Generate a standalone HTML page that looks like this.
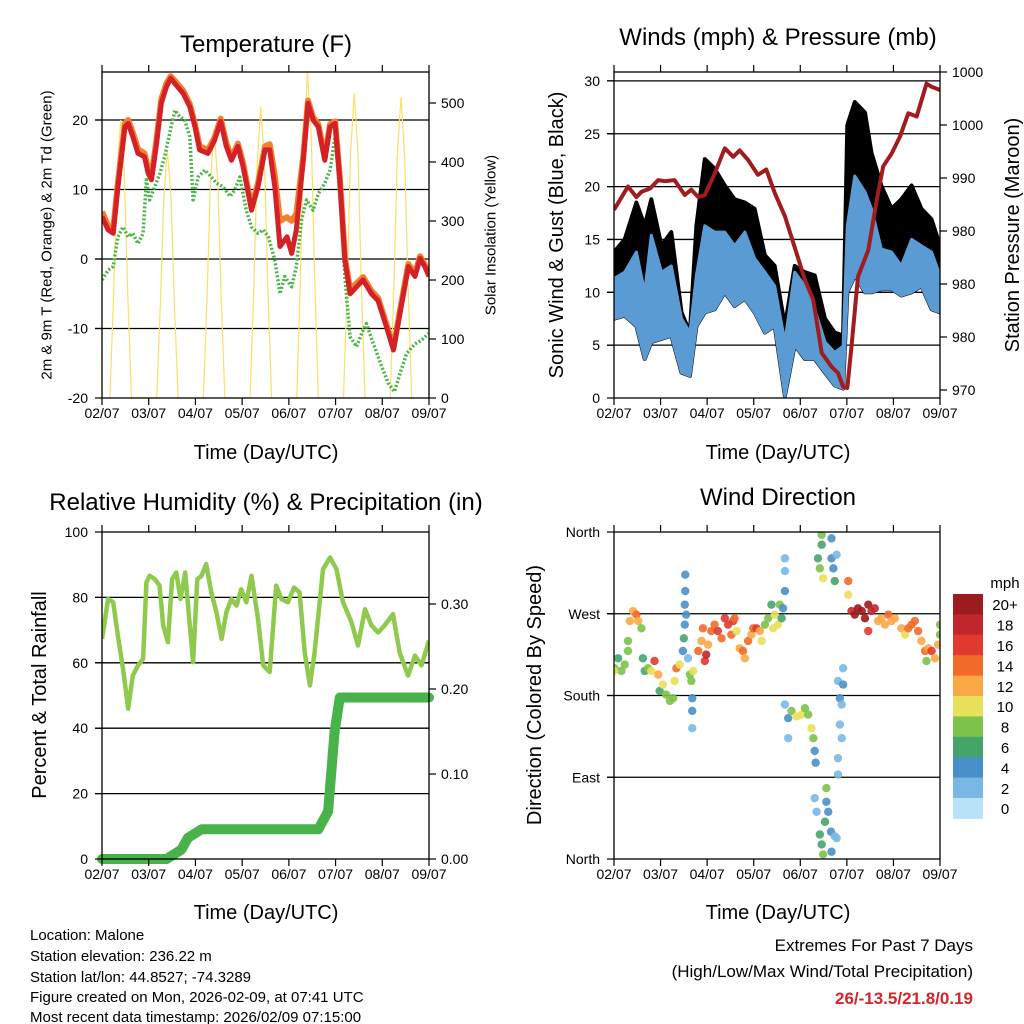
<!DOCTYPE html>
<html><head><meta charset="utf-8"><title>Weather Station Malone</title>
<style>
html,body{margin:0;padding:0;background:#fff;}
svg{display:block;font-family:"Liberation Sans",Arial,sans-serif;}
</style></head>
<body>
<svg id="fig" width="1024" height="1024" viewBox="0 0 1024 1024" xmlns="http://www.w3.org/2000/svg">
<rect x="0" y="0" width="1024" height="1024" fill="#fff"/>
<text x="266" y="52" font-size="24" text-anchor="middle">Temperature (F)</text>
<text x="778" y="45" font-size="24" text-anchor="middle">Winds (mph) &amp; Pressure (mb)</text>
<text x="266" y="510" font-size="24" text-anchor="middle">Relative Humidity (%) &amp; Precipitation (in)</text>
<text x="778" y="505" font-size="24" text-anchor="middle">Wind Direction</text>

<text transform="translate(47,235) rotate(-90)" font-size="15" text-anchor="middle" dominant-baseline="central">2m &amp; 9m T (Red, Orange) &amp; 2m Td (Green)</text>
<text transform="translate(491,235) rotate(-90)" font-size="15" text-anchor="middle" dominant-baseline="central">Solar Insolation (Yellow)</text>
<text transform="translate(557,235) rotate(-90)" font-size="20" text-anchor="middle" dominant-baseline="central">Sonic Wind &amp; Gust (Blue, Black)</text>
<text transform="translate(1013,235) rotate(-90)" font-size="20" text-anchor="middle" dominant-baseline="central">Station Pressure (Maroon)</text>
<text transform="translate(40,695) rotate(-90)" font-size="20" text-anchor="middle" dominant-baseline="central">Percent &amp; Total Rainfall</text>
<text transform="translate(535,695) rotate(-90)" font-size="20" text-anchor="middle" dominant-baseline="central">Direction (Colored By Speed)</text>

<text x="266" y="459" font-size="20" text-anchor="middle">Time (Day/UTC)</text>
<text x="778" y="459" font-size="20" text-anchor="middle">Time (Day/UTC)</text>
<text x="266" y="919" font-size="20" text-anchor="middle">Time (Day/UTC)</text>
<text x="778" y="919" font-size="20" text-anchor="middle">Time (Day/UTC)</text>

<g font-size="15">
<text x="30" y="940">Location: Malone</text>
<text x="30" y="961">Station elevation: 236.22 m</text>
<text x="30" y="982">Station lat/lon: 44.8527; -74.3289</text>
<text x="30" y="1002">Figure created on Mon, 2026-02-09, at 07:41 UTC</text>
<text x="30" y="1022">Most recent data timestamp: 2026/02/09 07:15:00</text>
</g>
<g font-size="17" text-anchor="end">
<text x="973" y="951">Extremes For Past 7 Days</text>
<text x="973" y="977">(High/Low/Max Wind/Total Precipitation)</text>
<text x="973" y="1004" fill="#d0262d" font-weight="bold">26/-13.5/21.8/0.19</text>
</g>
<g id="dyn"></g>
</svg>
<script>
// ---------- Temperature panel data ----------
const redTimes = [0,0.13,0.24,0.34,0.49,0.56,0.66,0.77,0.91,0.99,1.06,1.16,1.27,1.38,1.47,1.59,1.74,1.88,1.99,2.09,2.27,2.41,2.54,2.66,2.77,2.91,3.02,3.2,3.34,3.49,3.59,3.7,3.81,3.96,4.06,4.16,4.31,4.41,4.52,4.63,4.77,4.88,4.99,5.09,5.2,5.31,5.45,5.59,5.77,5.91,6.09,6.24,6.38,6.56,6.7,6.81,6.91,7.0];
const temp2m = [6.1,4.2,3.7,10.4,19,19.5,17.6,15.2,14.7,12.3,11.4,16.2,22.4,24.8,26,25,23.8,21.9,19,15.7,15.2,17.1,19.8,16.2,14.2,16.2,13.3,7,10.4,15.7,15.7,10.4,1.8,3.2,0.8,4.2,14.2,22.4,20,19,14.2,19,19.5,11.4,-0.2,-5,-4,-3,-5,-6,-9.8,-13.1,-7.8,-1.1,-2.5,0.1,-1.1,-2.5];
const temp9m = [6.8,4.8,4.2,11,19.5,20,18.2,15.8,15.2,13,12,16.8,23,25.3,26.3,25.4,24.2,22.3,19.4,16.2,15.7,17.5,20.2,16.7,14.6,16.6,13.8,7.5,10.9,16.2,16.5,12,5.5,6,5.5,6.5,14.8,22.8,20.4,19.4,14.6,19.4,19.8,11.8,0.3,-4.4,-3.5,-2.6,-4.6,-5.6,-9.4,-12.8,-7.4,-0.7,-2.1,0.4,-0.8,-2.2];
const tdTimes = [0,0.13,0.24,0.34,0.45,0.56,0.66,0.77,0.88,0.95,1.02,1.13,1.24,1.34,1.45,1.56,1.66,1.77,1.88,1.95,2.06,2.2,2.34,2.45,2.59,2.74,2.84,2.95,3.09,3.2,3.34,3.45,3.56,3.7,3.81,3.91,4.06,4.16,4.27,4.38,4.52,4.63,4.77,4.88,4.99,5.09,5.2,5.31,5.45,5.56,5.66,5.81,5.99,6.13,6.26,6.38,6.52,6.7,6.84,6.99];
const dewpoint = [-3,-1.6,-1.1,3.2,4.6,3.2,3.7,2.2,3.7,11.4,8.5,10.4,12.3,14.7,18.1,21.4,20.5,20,17.6,8.5,11.8,12.8,11.8,10.9,10.4,9,9.9,11.8,7,4.6,3.7,4.2,3.2,-0.1,-5,-2.5,-4,-1.1,5.6,8.5,7,9.4,10.9,12.8,17.6,9.4,-2.5,-11.2,-12.6,-10.7,-9.3,-12.2,-15.5,-17.9,-19.1,-16.5,-13.6,-12.2,-11.7,-10.7];
const solarTimes = [0.17,0.25,0.32,0.4,0.48,0.55,0.63, 1.17,1.25,1.32,1.4,1.48,1.55,1.63, 2.17,2.25,2.32,2.4,2.48,2.55,2.63, 3.17,3.25,3.32,3.4,3.48,3.55,3.63, 4.17,4.25,4.32,4.4,4.48,4.55,4.63, 5.17,5.25,5.32,5.4,5.48,5.55,5.63, 6.17,6.25,6.32,6.4,6.48,6.55,6.63];
const solar = [0,179,377,471,377,179,0, 0,160,336,420,336,160,0, 0,173,363,454,363,173,0, 0,187,394,493,394,187,0, 0,210,442,552,442,210,0, 0,196,414,517,414,196,0, 0,194,408,510,408,194,0];
const tempTicks = [20,10,0,-10,-20];
const solarTicks = [0,100,200,300,400,500];
const dayLabels = ["02/07","03/07","04/07","05/07","06/07","07/07","08/07","09/07"];

// ---------- Winds panel data ----------
const windTimes = [0,0.23,0.48,0.66,0.8,1.02,1.23,1.45,1.63,1.77,1.95,2.16,2.38,2.59,2.81,3.02,3.24,3.45,3.67,3.88,4.1,4.31,4.53,4.74,4.92,5.01,5.17,5.39,5.53,5.74,5.96,6.17,6.39,6.6,6.82,7.0];
const windHigh = [11.3,11.9,13.8,10,15.4,11.9,12.5,7.5,6.2,11.6,16.3,15.7,15.7,14.4,15.7,13.2,11.9,10.6,5.3,11.9,10.6,8.4,5.3,4.3,4.9,16.3,21,19.5,17.9,14.1,13.8,12.5,15,14.4,13.8,11.6];
const windLow = [7.5,7.8,6.8,3.7,5.3,5.6,5.9,2.4,2.1,6.8,8.1,8.4,10,8.7,9.4,8.1,6.2,6.8,0.2,5,3.7,3.7,2.4,1.2,0.9,10,11.6,10,10,10.3,10.3,9.7,10,10.6,8.4,8.1];
const gustHigh = [13.8,15,18.5,16.3,18.8,14.4,15.7,8.1,6.2,16.3,22.6,21.7,20.1,18.8,18.5,17.9,13.5,12.5,6.8,12.5,11.9,11.6,7.5,6.2,5.9,25.8,28,27,23.2,20.1,17.9,18.8,20.1,17.9,16.9,14.4];
const presTimes = [0,0.3,0.48,0.59,0.77,0.95,1.09,1.3,1.52,1.66,1.81,1.95,2.16,2.38,2.56,2.7,2.88,3.09,3.27,3.45,3.67,3.92,4.1,4.28,4.46,4.67,4.81,4.92,5.01,5.1,5.24,5.46,5.64,5.78,5.96,6.14,6.32,6.5,6.71,6.82,7.0];
const pressure = [987.0,989.2,988.2,988.7,989.0,989.8,989.7,989.8,988.4,988.9,988.2,988.4,990.4,992.8,992.0,992.6,991.7,990.3,990.8,988.6,986.4,982.9,980.4,978.5,973.5,972.2,971.6,970.3,970.2,974.1,980.7,983.2,987.9,991.1,992.3,993.9,996.1,995.8,998.9,998.6,998.3];
const windTicks = [0,5,10,15,20,25,30];
const presTicks = [970,975,980,985,990,995,1000];
const presTickLabels = ["970","980","980","980","990","1000","1000"];

// ---------- Humidity panel data ----------
const rhTimes = [0,0.13,0.24,0.34,0.45,0.56,0.66,0.77,0.88,0.95,1.02,1.13,1.23,1.31,1.41,1.5,1.59,1.68,1.78,1.88,1.95,2.04,2.13,2.23,2.34,2.45,2.56,2.66,2.77,2.88,2.98,3.09,3.2,3.34,3.45,3.59,3.73,3.84,3.98,4.11,4.23,4.34,4.45,4.55,4.73,4.88,5.02,5.16,5.34,5.48,5.63,5.77,5.91,6.05,6.23,6.37,6.55,6.7,6.84,7.0];
const rh = [67.3,79.5,78.5,68.3,58.2,46,56.1,59.2,61.2,84.6,86.6,85.6,83.6,71.4,66.3,85.6,87.6,79.5,87.6,71.4,60.2,85.6,86.6,90.2,81.5,75.4,67.3,75.4,79.5,77.5,82.5,78.5,86.6,73.4,59.2,57.2,83.6,79.5,78.5,83,81.5,63.2,53.1,63.2,88.6,92.2,88.6,78.5,72.4,65.3,76.4,71.4,69.3,71.4,74.9,63.2,56.1,62.2,59.2,66.8];
const precipTimes = [0,1.38,1.7,1.84,2.13,4.63,4.84,4.98,5.09,7.0];
const precip = [0,0,0.011,0.025,0.035,0.035,0.056,0.15,0.19,0.19];
const rhTicks = [0,20,40,60,80,100];
const precipTicks = [0,0.1,0.2,0.3];
const precipTickLabels = ["0.00","0.10","0.20","0.30"];

// ---------- Wind direction panel data ----------
const dirTimes = [0.01,0.09,0.16,0.23,0.3,0,0.34,0.41,0.48,0.52,0.59,0.3,0.62,0.66,0.73,0.8,0.87,0.95,0.98,1.05,1.12,1.2,1.27,1.3,1.34,1.41,1.48,1.52,1.52,1.53,1.53,1.55,1.5,1.59,1.63,1.66,1.7,1.68,1.68,1.68,1.81,1.88,1.91,1.95,1.98,2.02,2.09,2.16,2.23,2.31,2.38,2.45,2.52,2.56,2.59,2.63,2.7,2.77,2.81,2.88,2.95,2.99,3.06,3.13,3.17,3.24,3.31,3.38,3.42,3.45,3.52,3.56,3.6,3.63,3.67,3.67,3.67,3.67,3.74,3.74,3.81,3.92,4.03,4.1,4.17,4.24,4.28,4.31,4.33,4.31,4.35,4.42,4.46,4.49,4.53,4.56,4.56,4.6,4.66,4.67,4.74,4.38,4.42,4.46,4.46,4.49,4.67,4.67,4.71,4.74,4.78,4.81,4.85,4.89,4.92,4.85,4.89,4.81,4.81,4.92,4.78,5.03,5.03,5.1,5.17,5.24,5.32,5.39,5.46,5.53,5.46,5.6,5.67,5.74,5.82,5.89,5.96,6.03,6.17,6.25,6.32,6.39,6.46,6.53,6.6,6.68,6.75,6.82,6.89,6.96,7.0,7.0,6.71];
const dirDegs = [210,221,207,214,229,207,262,273,269,262,254,240,221,207,210,207,218,203,185,192,181,174,177,196,210,214,229,258,280,295,313,269,243,221,203,196,207,177,163,144,229,240,254,218,225,236,251,258,251,243,265,258,247,262,265,251,232,229,221,240,247,254,254,251,240,258,265,280,254,269,258,280,265,276,295,317,331,170,155,133,163,157,159,166,159,144,133,119,106,67,52,27,16,5,41,63,78,52,30,8,25,331,320,357,346,309,353,331,320,306,335,196,177,170,192,148,133,111,93,210,23,306,291,273,269,276,273,265,280,273,251,276,262,265,258,269,262,265,254,247,254,258,262,251,240,229,232,229,221,236,258,247,218];
const dirSpeeds = [8,6,8,8,8,10,12,12,14,12,8,8,6,6,8,10,16,12,6,10,8,8,8,10,14,10,4,4,4,4,4,4,6,2,8,8,10,4,4,2,14,12,14,16,18,12,14,14,16,14,16,16,14,16,14,10,12,14,12,14,12,14,16,12,10,8,8,6,10,10,10,8,6,4,4,2,2,2,4,2,8,10,10,8,8,10,8,4,4,2,2,6,6,8,6,4,8,4,4,4,2,6,8,8,6,10,4,4,4,6,2,2,4,2,4,2,2,2,2,2,2,14,10,18,20,20,20,20,20,18,16,18,12,12,12,14,12,12,12,10,14,14,14,14,12,14,12,16,12,12,8,8,8];
const speedColors = ["#b8e2f8","#7ab8e4","#4a90c8","#46a46b","#7dc24b","#e8e05a","#f9a845","#f26a2a","#e03a2e","#c1272d","#9b1b1f"];
const speedLabels = ["0","2","4","6","8","10","12","14","16","18","20+"];
const dirTicks = [0,90,180,270,360];
const dirTickLabels = ["North","East","South","West","North"];

const NS = "http://www.w3.org/2000/svg";
const root = document.getElementById("dyn");
function mk(tag, attrs, parent) {
  const e = document.createElementNS(NS, tag);
  for (const k in attrs) e.setAttribute(k, attrs[k]);
  (parent || root).appendChild(e);
  return e;
}
const P1 = {L:102,R:429,T:72,B:398}, P2 = {L:614,R:940,T:72,B:398};
const P3 = {L:102,R:429,T:532,B:859}, P4 = {L:614,R:940,T:532,B:859};
function xOf(P, t) { return P.L + t / 7 * (P.R - P.L); }
const yTemp = v => 398 - (v + 20) * 6.95;
const ySolar = v => 398 - v * 0.59;
const yWind = v => 398 - v * 10.57;
const yPres = p => 72 + (1000 - p) * 10.6;
const yRH = v => 859 - v * 3.27;
const yPrec = v => 859 - v * 850;
const yDir = d => 859 - d * 0.9083;

// clip paths
const defs = mk("defs", {});
[P1,P2,P3,P4].forEach((P,i) => {
  const cp = mk("clipPath", {id:"clip"+i}, defs);
  mk("rect", {x:P.L, y:P.T, width:P.R-P.L, height:P.B-P.T}, cp);
});

function pathFrom(P, times, vals, yf) {
  let d = "";
  const n = Math.min(times.length, vals.length);
  for (let i = 0; i < n; i++) d += (i ? "L" : "M") + xOf(P, times[i]).toFixed(1) + "," + yf(vals[i]).toFixed(1);
  return d;
}
function bandFrom(P, times, hi, lo, yf) {
  const n = Math.min(times.length, hi.length, lo.length);
  let d = "";
  for (let i = 0; i < n; i++) d += (i ? "L" : "M") + xOf(P, times[i]).toFixed(1) + "," + yf(hi[i]).toFixed(1);
  for (let i = n - 1; i >= 0; i--) d += "L" + xOf(P, times[i]).toFixed(1) + "," + yf(lo[i]).toFixed(1);
  return d + "Z";
}

function gridLines(P, vals, yf, name) {
  vals.forEach(v => {
    const y = yf(v);
    if (y <= P.T + 1 || y >= P.B - 1) return;
    const l = mk("line", {x1:P.L-7, x2:P.R, y1:y, y2:y, stroke:"#000", "stroke-width":1.3});
    
    
  });
}
function frameAndTicks(P, name) {
  const f = mk("rect", {x:P.L, y:P.T, width:P.R-P.L, height:P.B-P.T, fill:"none", stroke:"#000", "stroke-width":1.3});
  
  
  for (let d = 0; d <= 7; d++) {
    const x = xOf(P, d);
    const t1 = mk("line", {x1:x, x2:x, y1:P.B, y2:P.B+7, stroke:"#000", "stroke-width":1.2});
    
    
    const t2 = mk("line", {x1:x, x2:x, y1:P.T-7, y2:P.T, stroke:"#000", "stroke-width":1.2});
    
    
    const lb = mk("text", {x:x, y:P.B+20, "font-size":14, "text-anchor":"middle"});
    lb.textContent = dayLabels[d];
    
    
  }
}
function yAxis(P, vals, labels, yf, side, name) {
  vals.forEach((v, i) => {
    const y = yf(v);
    const x0 = side === "left" ? P.L - 7 : P.R;
    const tk = mk("line", {x1:x0, x2:x0+7, y1:y, y2:y, stroke:"#000", "stroke-width":1.2});
    
    
    const lb = mk("text", {x: side === "left" ? P.L - 14 : P.R + 12, y: y + 5, "font-size":14, "text-anchor": side === "left" ? "end" : "start"});
    lb.textContent = labels[i];
    
    
  });
}

// ===== Panel 1: temperature =====
gridLines(P1, tempTicks, yTemp, "temperature");
const g1 = mk("g", {"clip-path":"url(#clip0)"});


const sol = mk("path", {d:pathFrom(P1, solarTimes, solar, ySolar), fill:"none", stroke:"#f9e06a", "stroke-width":1.2}, g1);


const td = mk("path", {d:pathFrom(P1, tdTimes, dewpoint, yTemp), fill:"none", stroke:"#4bb547", "stroke-width":3.5, "stroke-dasharray":"2 2", "stroke-linejoin":"round"}, g1);


const t9 = mk("path", {d:pathFrom(P1, redTimes, temp9m, yTemp), fill:"none", stroke:"#f47f2a", "stroke-width":6, "stroke-linejoin":"round"}, g1);


const t2 = mk("path", {d:pathFrom(P1, redTimes, temp2m, yTemp), fill:"none", stroke:"#d42027", "stroke-width":5, "stroke-linejoin":"round"}, g1);


frameAndTicks(P1, "temperature");
yAxis(P1, tempTicks, tempTicks.map(String), yTemp, "left", "temperature-y");
yAxis(P1, solarTicks, solarTicks.map(String), ySolar, "right", "solar-y");

// ===== Panel 2: winds & pressure =====
gridLines(P2, windTicks, yWind, "wind");
const g2 = mk("g", {"clip-path":"url(#clip1)"});


const gb = mk("path", {d:bandFrom(P2, windTimes, gustHigh, windLow, yWind), fill:"#000", stroke:"#000", "stroke-width":4, "stroke-linejoin":"round"}, g2);


const wb = mk("path", {d:bandFrom(P2, windTimes, windHigh, windLow, yWind), fill:"#5a9bd4", stroke:"#5a9bd4", "stroke-width":3, "stroke-linejoin":"round"}, g2);


const pl = mk("path", {d:pathFrom(P2, presTimes, pressure, yPres), fill:"none", stroke:"#a01c1f", "stroke-width":4, "stroke-linejoin":"round"}, g2);


frameAndTicks(P2, "wind");
yAxis(P2, windTicks, windTicks.map(String), yWind, "left", "wind-y");
yAxis(P2, presTicks, presTickLabels, yPres, "right", "pressure-y");

// ===== Panel 3: RH & precip =====
gridLines(P3, rhTicks, yRH, "humidity");
const g3 = mk("g", {"clip-path":"url(#clip2)"});


const rl = mk("path", {d:pathFrom(P3, rhTimes, rh, yRH), fill:"none", stroke:"#8fca4e", "stroke-width":4.5, "stroke-linejoin":"round"}, g3);


const prl = mk("path", {d:pathFrom(P3, precipTimes, precip, yPrec), fill:"none", stroke:"#47b34a", "stroke-width":10, "stroke-linecap":"round", "stroke-linejoin":"round"});


frameAndTicks(P3, "humidity");
yAxis(P3, rhTicks, rhTicks.map(String), yRH, "left", "humidity-y");
yAxis(P3, precipTicks, precipTickLabels, yPrec, "right", "precip-y");

// ===== Panel 4: wind direction =====
gridLines(P4, dirTicks, yDir, "direction");
const g4 = mk("g", {"clip-path":"url(#clip3)"});


const nd = Math.min(dirTimes.length, dirDegs.length, dirSpeeds.length);
for (let i = 0; i < nd; i++) {
  const bin = Math.min(10, Math.max(0, Math.floor(dirSpeeds[i] / 2)));
  const c = mk("circle", {cx:xOf(P4, dirTimes[i]), cy:yDir(dirDegs[i]), r:4.2, fill:speedColors[bin], "fill-opacity":0.9}, g4);
  
  
}
frameAndTicks(P4, "direction");
yAxis(P4, dirTicks, dirTickLabels, yDir, "left", "direction-y");

// colorbar
const cbTop = 594, cbH = 20.4;
const mph = mk("text", {x:1005, y:588, "font-size":15, "text-anchor":"middle"});
mph.textContent = "mph";


for (let i = 0; i < speedColors.length; i++) {
  const k = speedColors.length - 1 - i;
  const r = mk("rect", {x:953, y:cbTop + i*cbH, width:30, height:cbH+0.5, fill:speedColors[k]});
  
  
  const t = mk("text", {x:1005, y:cbTop + i*cbH + cbH/2 + 6, "font-size":15, "text-anchor":"middle"});
  t.textContent = speedLabels[k];
  
  
}
</script>
</body></html>
